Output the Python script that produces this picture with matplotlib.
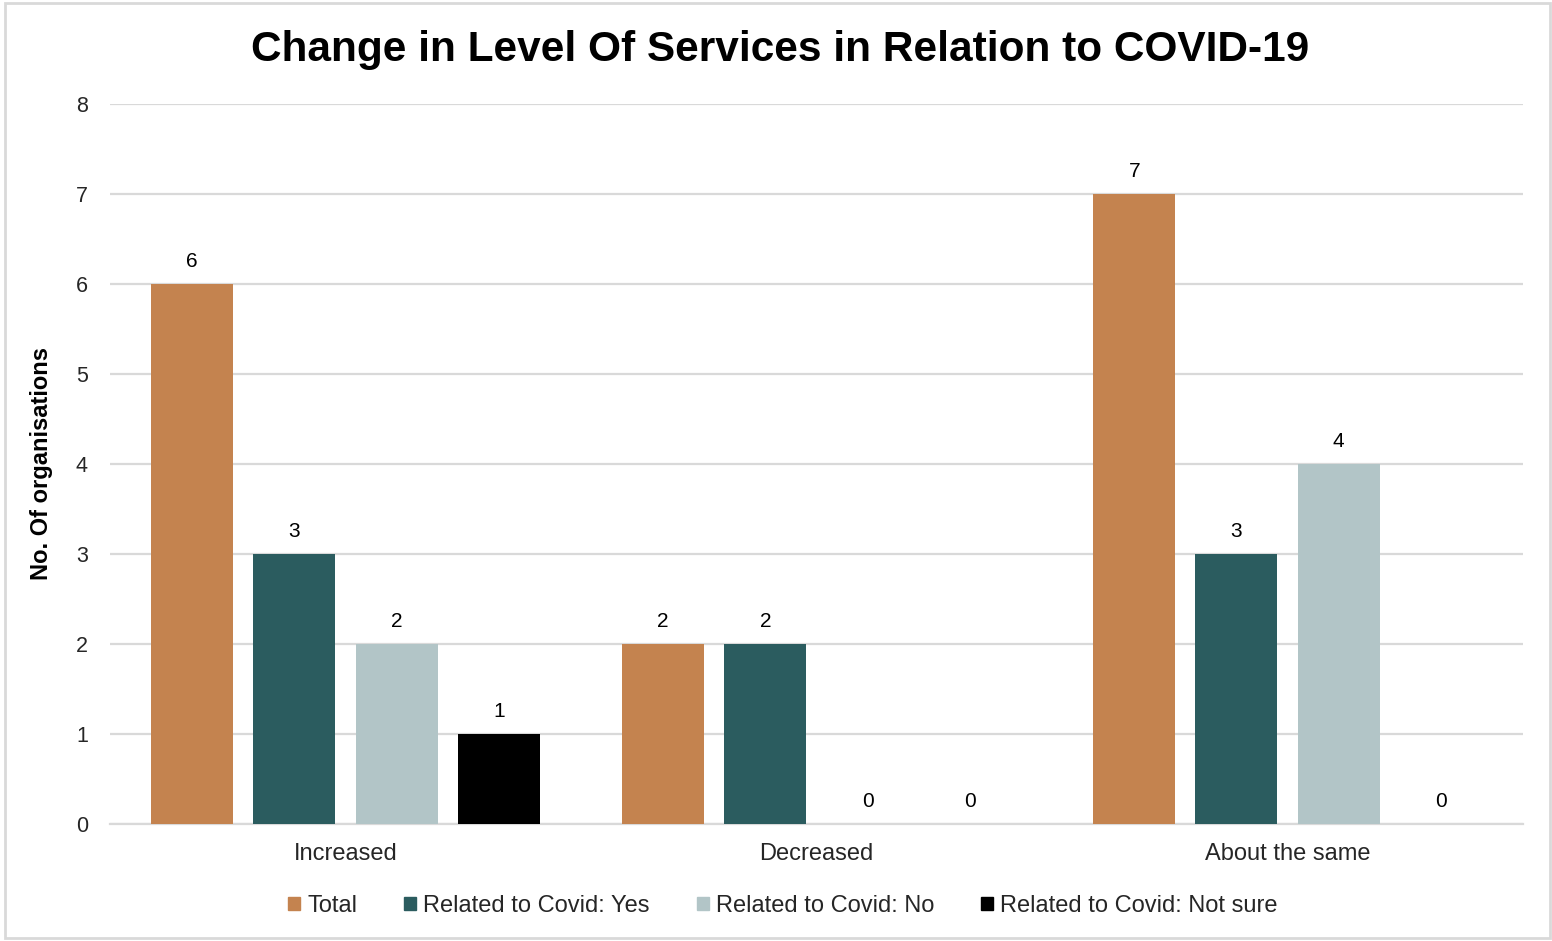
import matplotlib
matplotlib.use("Agg")
import matplotlib.pyplot as plt
import numpy as np
from matplotlib.patches import Rectangle

plt.rcParams['font.family'] = ['Liberation Sans', 'DejaVu Sans']

categories = ["Increased", "Decreased", "About the same"]
series_names = ["Total", "Related to Covid: Yes", "Related to Covid: No",
                "Related to Covid: Not sure"]
total = [6, 2, 7]
covid_yes = [3, 2, 3]
covid_no = [2, 0, 4]
covid_not_sure = [1, 0, 0]
colors = ["#C4834F", "#2B5C5F", "#B2C5C7", "#000000"]

series = [total, covid_yes, covid_no, covid_not_sure]

fig = plt.figure(figsize=(15.52, 9.41), dpi=100)
ax = fig.add_axes([110 / 1552, 1 - 824 / 941, 1413 / 1552, 720 / 941])

x = np.arange(len(categories))
offsets = [-0.3255, -0.1085, 0.1085, 0.3255]
width = 0.174
for vals, off, col, name in zip(series, offsets, colors, series_names):
    bars = ax.bar(x + off, vals, width=width, color=col, label=name, zorder=3)
    for b, v in zip(bars, vals):
        ax.annotate(f"{v}", (b.get_x() + b.get_width() / 2, v),
                    xytext=(0, 9.5), textcoords="offset points",
                    ha="center", va="bottom", fontsize=15, color="#000000")

ax.set_xlim(-0.5, 2.5)
ax.set_ylim(0, 8)
ax.set_yticks(range(0, 9))
ax.set_xticks(x)
ax.set_xticklabels(categories, fontsize=17, color="#262626")
ax.tick_params(axis='y', labelsize=15.5, length=0, pad=16, labelcolor="#262626")
ax.tick_params(axis='x', length=0, pad=14)
ax.grid(axis='y', color="#D9D9D9", linewidth=1.6, zorder=0)
for s in ["top", "right", "left"]:
    ax.spines[s].set_visible(False)
ax.spines["bottom"].set_color("#D9D9D9")
ax.spines["bottom"].set_linewidth(1.6)

ax.set_ylabel("No. Of organisations", fontsize=17, fontweight="bold")
ax.yaxis.set_label_coords((53 - 110) / 1413, 0.5)

fig.text(780 / 1552, 1 - 50 / 941, "Change in Level Of Services in Relation to COVID-19",
         ha="center", va="center", fontsize=30.5, fontweight="bold")

handles = [Rectangle((0, 0), 1, 1, color=c) for c in colors]
fig.legend(handles, series_names, loc="center", bbox_to_anchor=(783 / 1552, 1 - 906 / 941),
           ncol=4, frameon=False, fontsize=17, handlelength=0.5, handleheight=0.5,
           handletextpad=0.3, columnspacing=2.0, labelcolor="#262626")

fig.patches.append(Rectangle((5 / 1552, 3 / 941), 1545 / 1552, 935 / 941,
                             transform=fig.transFigure, fill=False,
                             edgecolor="#D9D9D9", linewidth=2))

fig.savefig("out.png", dpi=100)
